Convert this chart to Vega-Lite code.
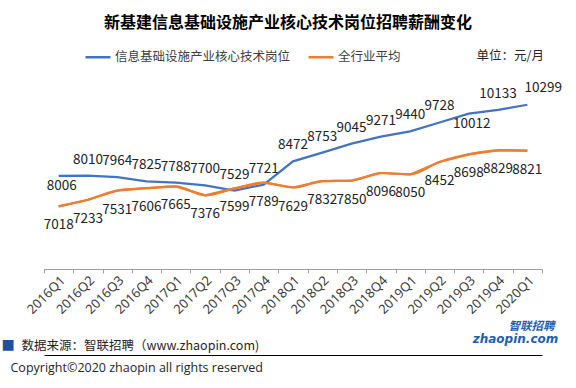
{
  "$schema": "https://vega.github.io/schema/vega-lite/v6.json",
  "width": 498,
  "height": 186,
  "autosize": {"type": "none"},
  "padding": {"left": 44, "top": 83, "right": 34, "bottom": 119},
  "background": "white",
  "config": {"view": {"stroke": null}},
  "title": {
    "text": "新基建信息基础设施产业核心技术岗位招聘薪酬变化",
    "font": "Noto Sans CJK SC",
    "fontSize": 16,
    "fontWeight": "bold",
    "color": "#000000",
    "anchor": "middle",
    "frame": "group",
    "dx": -5,
    "dy": -8,
    "offset": 4
  },
  "data": {
    "values": [
      {"q": "2016Q1", "s": "信息基础设施产业核心技术岗位", "v": 8006},
      {"q": "2016Q2", "s": "信息基础设施产业核心技术岗位", "v": 8010},
      {"q": "2016Q3", "s": "信息基础设施产业核心技术岗位", "v": 7964},
      {"q": "2016Q4", "s": "信息基础设施产业核心技术岗位", "v": 7825},
      {"q": "2017Q1", "s": "信息基础设施产业核心技术岗位", "v": 7788},
      {"q": "2017Q2", "s": "信息基础设施产业核心技术岗位", "v": 7700},
      {"q": "2017Q3", "s": "信息基础设施产业核心技术岗位", "v": 7529},
      {"q": "2017Q4", "s": "信息基础设施产业核心技术岗位", "v": 7721},
      {"q": "2018Q1", "s": "信息基础设施产业核心技术岗位", "v": 8472},
      {"q": "2018Q2", "s": "信息基础设施产业核心技术岗位", "v": 8753},
      {"q": "2018Q3", "s": "信息基础设施产业核心技术岗位", "v": 9045},
      {"q": "2018Q4", "s": "信息基础设施产业核心技术岗位", "v": 9271},
      {"q": "2019Q1", "s": "信息基础设施产业核心技术岗位", "v": 9440},
      {"q": "2019Q2", "s": "信息基础设施产业核心技术岗位", "v": 9728},
      {"q": "2019Q3", "s": "信息基础设施产业核心技术岗位", "v": 10012},
      {"q": "2019Q4", "s": "信息基础设施产业核心技术岗位", "v": 10133},
      {"q": "2020Q1", "s": "信息基础设施产业核心技术岗位", "v": 10299},
      {"q": "2016Q1", "s": "全行业平均", "v": 7018},
      {"q": "2016Q2", "s": "全行业平均", "v": 7233},
      {"q": "2016Q3", "s": "全行业平均", "v": 7531},
      {"q": "2016Q4", "s": "全行业平均", "v": 7606},
      {"q": "2017Q1", "s": "全行业平均", "v": 7665},
      {"q": "2017Q2", "s": "全行业平均", "v": 7376},
      {"q": "2017Q3", "s": "全行业平均", "v": 7599},
      {"q": "2017Q4", "s": "全行业平均", "v": 7789},
      {"q": "2018Q1", "s": "全行业平均", "v": 7629},
      {"q": "2018Q2", "s": "全行业平均", "v": 7832},
      {"q": "2018Q3", "s": "全行业平均", "v": 7850},
      {"q": "2018Q4", "s": "全行业平均", "v": 8096},
      {"q": "2019Q1", "s": "全行业平均", "v": 8050},
      {"q": "2019Q2", "s": "全行业平均", "v": 8452},
      {"q": "2019Q3", "s": "全行业平均", "v": 8698},
      {"q": "2019Q4", "s": "全行业平均", "v": 8829},
      {"q": "2020Q1", "s": "全行业平均", "v": 8821}
    ]
  },
  "resolve": {"axis": {"x": "independent", "y": "independent"}},
  "layer": [
    {
      "mark": {"type": "line", "strokeWidth": 2.2},
      "encoding": {
        "x": {
          "field": "q", "type": "ordinal", "bandPosition": 0.5,
          "scale": {"type": "band", "paddingInner": 0, "paddingOuter": 0},
          "axis": {
            "orient": "bottom",
            "domainColor": "#9e9e9e", "tickColor": "#9e9e9e", "tickSize": 4, "tickBand": "extent",
            "labelAngle": -45, "labelAlign": "right", "labelBaseline": "middle", "labelPadding": 5, "labelOffset": 4,
            "labelFont": "Noto Sans", "labelFontSize": 13, "labelColor": "#404040",
            "title": "数据来源：智联招聘（www.zhaopin.com)",
            "titleFont": "Noto Sans CJK SC", "titleFontSize": 12.5, "titleFontWeight": "normal", "titleColor": "#262626",
            "titleAlign": "left", "titleBaseline": "middle", "titleAnchor": "start",
            "titleX": -23, "titleY": 76
          }
        },
        "y": {
          "field": "v", "type": "quantitative",
          "scale": {"domain": [5000, 11000], "nice": false, "zero": false},
          "axis": {
            "orient": "left", "domain": false, "ticks": false, "labels": false, "grid": false,
            "title": "单位：元/月",
            "titleFont": "Noto Sans CJK SC", "titleFontSize": 12.5, "titleFontWeight": "normal", "titleColor": "#262626",
            "titleAngle": 0, "titleAlign": "left", "titleBaseline": "middle",
            "titleX": 432, "titleY": -28
          }
        },
        "color": {
          "field": "s", "type": "nominal",
          "scale": {"domain": ["信息基础设施产业核心技术岗位", "全行业平均"], "range": ["#4472C4", "#ED7D31"]},
          "legend": {
            "title": null, "orient": "none", "direction": "horizontal",
            "legendX": 40, "legendY": -40,
            "symbolType": "stroke", "symbolSize": 625, "symbolStrokeWidth": 2.5,
            "labelFont": "Noto Sans CJK SC", "labelFontSize": 12.5, "labelColor": "#404040",
            "labelLimit": 400, "labelOffset": 3, "columnPadding": 12
          }
        }
      }
    },
    {
      "transform": [{"filter": "datum.s === '全行业平均'"}],
      "mark": {"type": "line", "strokeWidth": 2.2, "interpolate": "monotone", "color": "#ED7D31"},
      "encoding": {
        "x": {"field": "q", "type": "ordinal", "bandPosition": 0.5, "axis": null},
        "y": {"field": "v", "type": "quantitative", "axis": null}
      }
    },
    {
      "transform": [{"filter": "datum.s === '信息基础设施产业核心技术岗位' && datum.v !== 8006 && datum.v !== 10012 && datum.v !== 10299"}],
      "mark": {"type": "text", "font": "Noto Sans CJK SC", "fontSize": 13.5, "color": "#222222", "baseline": "bottom", "dy": -9},
      "encoding": {
        "x": {
          "field": "q", "type": "ordinal", "bandPosition": 0.5,
          "axis": {
            "orient": "top", "offset": -272, "domain": true, "domainColor": "#000000", "domainWidth": 1,
            "ticks": false, "labels": false, "grid": false,
            "title": "■", "titleFont": "DejaVu Sans", "titleFontSize": 14, "titleColor": "#1F4FA0",
            "titleAlign": "center", "titleBaseline": "middle", "titleX": -36.5, "titleY": -10.5
          }
        },
        "y": {
          "field": "v", "type": "quantitative",
          "axis": {
            "orient": "right", "domain": false, "ticks": false, "labels": false, "grid": false,
            "title": "Copyright©2020 zhaopin all rights reserved",
            "titleFont": "Open Sans", "titleFontSize": 12.5, "titleFontWeight": "normal", "titleColor": "#262626",
            "titleAngle": 0, "titleAlign": "left", "titleBaseline": "middle",
            "titleX": -532, "titleY": 284
          }
        },
        "text": {"field": "v", "type": "quantitative", "format": "d"}
      }
    },
    {
      "transform": [{"filter": "datum.v === 8006 || datum.v === 10012"}],
      "mark": {"type": "text", "font": "Noto Sans CJK SC", "fontSize": 13.5, "color": "#222222", "baseline": "middle", "dy": 10, "dx": 3},
      "encoding": {
        "x": {"field": "q", "type": "ordinal", "bandPosition": 0.5, "axis": null},
        "y": {"field": "v", "type": "quantitative", "axis": null},
        "text": {"field": "v", "type": "quantitative", "format": "d"}
      }
    },
    {
      "transform": [{"filter": "datum.v === 10299"}],
      "mark": {"type": "text", "font": "Noto Sans CJK SC", "fontSize": 13.5, "color": "#222222", "baseline": "bottom", "dy": -10, "dx": 16},
      "encoding": {
        "x": {"field": "q", "type": "ordinal", "bandPosition": 0.5, "axis": null},
        "y": {"field": "v", "type": "quantitative", "axis": null},
        "text": {"field": "v", "type": "quantitative", "format": "d"}
      }
    },
    {
      "transform": [{"filter": "datum.s === '全行业平均'"}],
      "mark": {"type": "text", "font": "Noto Sans CJK SC", "fontSize": 13.5, "color": "#222222", "baseline": "top", "dy": 12},
      "encoding": {
        "x": {
          "field": "q", "type": "ordinal", "bandPosition": 0.5,
          "axis": {
            "orient": "bottom", "domain": false, "ticks": false, "labels": false, "grid": false,
            "title": "zhaopin.com", "titleFont": "DejaVu Sans", "titleFontSize": 12, "titleFontWeight": "bold", "titleFontStyle": "italic",
            "titleColor": "#1F5FB0", "titleAlign": "center", "titleBaseline": "middle",
            "titleX": 471, "titleY": 69
          }
        },
        "y": {
          "field": "v", "type": "quantitative",
          "axis": {
            "orient": "left", "domain": false, "ticks": false, "labels": false, "grid": false,
            "title": "智联招聘", "titleFont": "Noto Sans CJK SC", "titleFontSize": 11.5, "titleFontWeight": "bold", "titleFontStyle": "italic",
            "titleColor": "#1F5FB0", "titleAngle": 0, "titleAlign": "center", "titleBaseline": "middle",
            "titleX": 487, "titleY": 243
          }
        },
        "text": {"field": "v", "type": "quantitative", "format": "d"}
      }
    }
  ]
}
